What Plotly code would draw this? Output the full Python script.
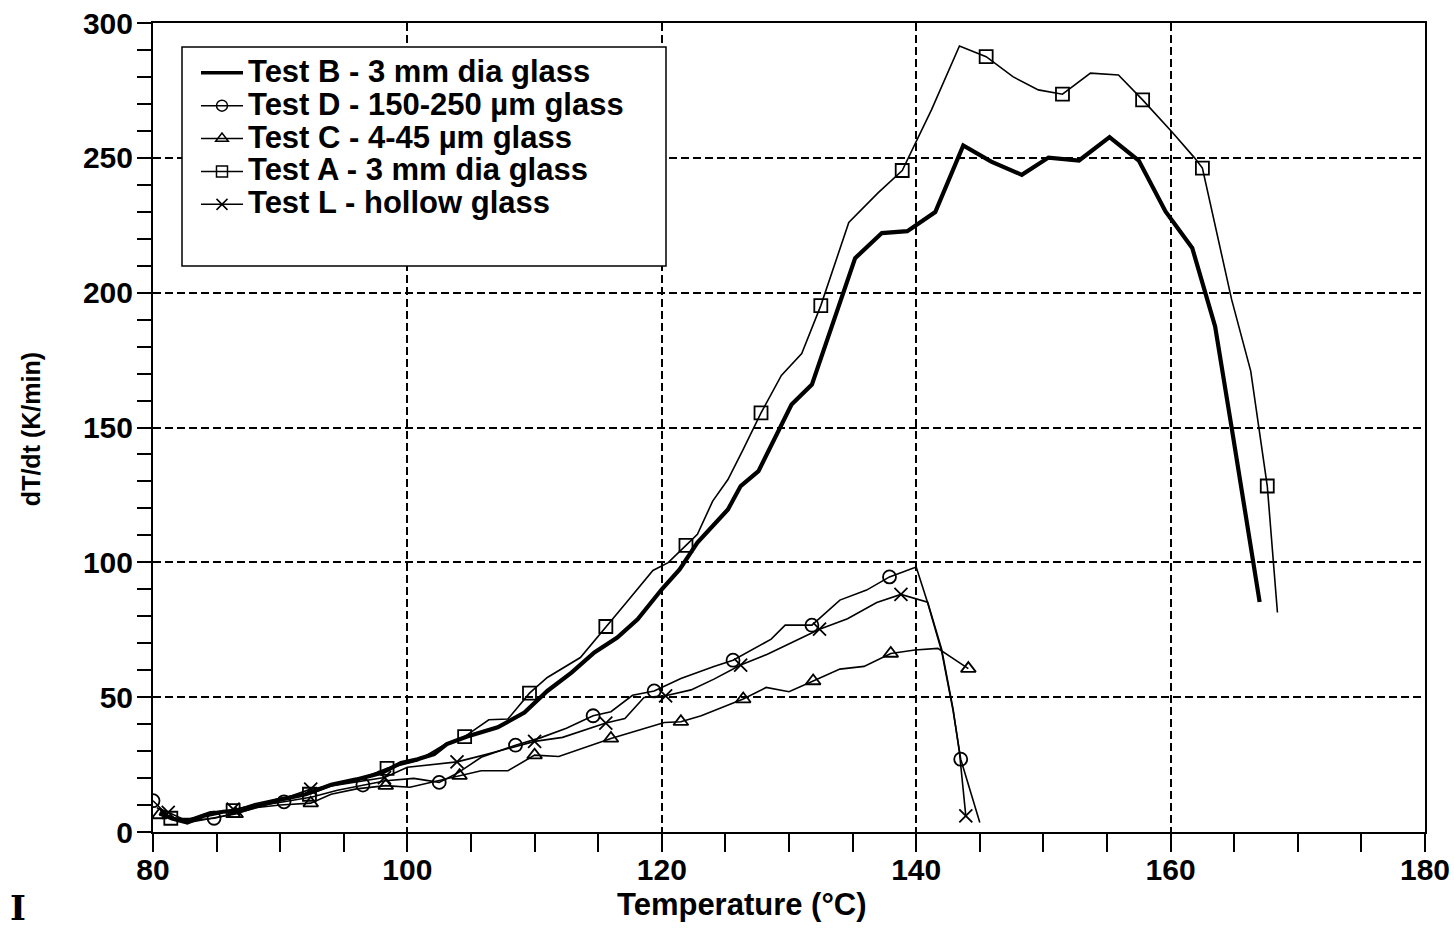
import plotly.graph_objects as go

# ---------------- data ----------------
B_x = [80.5, 81.5, 82.7, 84, 85.5, 87, 88.5, 90, 92, 94, 96, 98, 99.5, 100.8, 102.1, 103.1, 104.7,
       107.1, 109.2, 111, 112.9, 114.7, 116.5, 118.1, 120, 121.4, 122.8, 125.2, 126.2, 127.6, 130.2,
       131.8, 135.2, 137.3, 139.3, 141.5, 143.7, 145.9, 148.3, 150.4, 152.8, 155.2, 157.5, 159.6,
       161.7, 163.5, 164.8, 166.5, 167.0]
B_y = [7, 5, 3.5, 6, 7.5, 8, 10, 12, 14, 17.5, 19.5, 22, 25.6, 27, 28.9, 32.6, 35.4,
       38.8, 44.3, 52.3, 59.1, 66.6, 72.1, 78.9, 90, 97.4, 107.3, 119.6, 128.3, 133.8, 158.5,
       165.9, 212.8, 222.1, 222.8, 229.9, 254.6, 248.6, 243.7, 250.1, 249, 257.7, 249, 230.1,
       216.6, 187.5, 149.9, 99.9, 85.3]

A_x = [80.6, 81.4, 83, 84.5, 86.3, 88, 90, 92.3, 94.5, 96.5, 98.4, 100.8, 103, 104.5, 106.4, 107.9,
       109.6, 111, 113.6, 115.6, 117.2, 119.3, 120.5, 121.9, 122.8, 124, 125.2, 126.4, 127.8, 129.4,
       131, 132.5, 134, 134.7, 137, 138.9, 141.2, 143.4, 145.5, 147.6, 149.6, 151.5, 153.7, 155.9, 157.8,
       160.2, 161.9, 162.5, 164.8, 166.3, 167.6, 168.4]
A_y = [8, 5.1, 5, 7.5, 7.9, 10.5, 12.5, 14, 18, 20, 23.6, 26.4, 32.6, 35.4, 41.6, 41.9,
       51.5, 57.3, 64.7, 76.2, 85, 97, 99.9, 106.3, 110.4, 122.7, 130.7, 141.9, 155.4, 169.3,
       177.4, 195.2, 216, 226, 237, 245.3, 267.8, 291.5, 287.5, 280.1, 275.2, 273.6, 281.4, 280.7, 271.5,
       259.1, 249.9, 246.2, 197.4, 170.9, 128.3, 81.4]
A_mx = [81.4, 86.3, 92.3, 98.4, 104.5, 109.6, 115.6, 121.9, 127.8, 132.5, 138.9, 145.5, 151.5, 157.8, 162.5, 167.6]
A_my = [5.1, 7.9, 14, 23.6, 35.4, 51.5, 76.2, 106.3, 155.4, 195.2, 245.3, 287.5, 273.6, 271.5, 246.2, 128.3]

D_x = [80.0, 81.2, 82.5, 84.8, 86.5, 88, 90.3, 92.5, 94.5, 96.5, 98.3, 100.5, 102.5, 104, 105.8,
       108.5, 110.5, 112.5, 114.6, 116, 117.7, 119.4, 121.5, 124.1, 125.6, 128.6, 129.7, 131.8,
       134, 136.1, 137.9, 140, 140.9, 142, 142.9, 143.5, 145]
D_y = [11.6, 6, 4, 5.1, 7, 9.5, 11.2, 13, 15.5, 17.4, 19, 19.9, 18.4, 22, 27.7,
       32.2, 35, 38.5, 43.1, 44.6, 50.7, 52.3, 56.9, 61.4, 63.7, 71.5, 76.7, 76.7,
       86, 89.7, 94.6, 98.3, 85, 67, 45, 27, 3.5]
D_mx = [80.0, 84.8, 90.3, 96.5, 102.5, 108.5, 114.6, 119.4, 125.6, 131.8, 137.9, 143.5]
D_my = [11.6, 5.1, 11.2, 17.4, 18.4, 32.2, 43.1, 52.3, 63.7, 76.7, 94.6, 27]

C_x = [80.5, 81.5, 82.7, 84.5, 86.5, 88, 90, 92.4, 94, 96, 98.3, 100.2, 102, 104.1, 105.8, 107.9,
       110, 111.9, 116, 120.2, 121.5, 123.1, 126.4, 128.2, 130, 131.9, 134, 135.9, 138, 139.9,
       141.7, 144.1]
C_y = [6.3, 5, 3.5, 5, 6.7, 9, 10, 10.7, 14, 16, 17.2, 16.6, 18.5, 20.9, 22.7, 22.7,
       28.5, 28, 34.7, 40.6, 40.9, 43.1, 49.3, 53.6, 52, 56, 60.4, 61.4, 66.2, 67.5,
       68.1, 60.6]
C_mx = [80.5, 86.5, 92.4, 98.3, 104.1, 110, 116, 121.5, 126.4, 131.9, 138, 144.1]
C_my = [6.3, 6.7, 10.7, 17.2, 20.9, 28.5, 34.7, 40.9, 49.3, 56, 66.2, 60.6]

L_x = [80.3, 81.2, 82.5, 84, 86.3, 88, 90, 92.4, 94.5, 96.5, 98.2, 100, 102, 103.9, 106, 108,
       110, 112.2, 115.6, 117.1, 118.6, 120.3, 122.3, 124.1, 126.2, 128.3, 130.3, 132.4, 134.6,
       136.9, 138.8, 140.9, 142, 142.9, 143.4, 143.9]
L_y = [9, 7.3, 4.5, 6, 8.5, 10, 12, 15.9, 17.5, 19, 20.2, 24, 25, 26, 28.5, 31,
       33.6, 35.1, 40.4, 42.1, 49.9, 50.5, 52.7, 56.7, 61.9, 65.9, 70.3, 75.2, 79.1,
       85.1, 88.1, 85.2, 67.8, 45.6, 29.5, 6]
L_mx = [81.2, 86.3, 92.4, 98.2, 103.9, 110, 115.6, 120.3, 126.2, 132.4, 138.8, 143.9]
L_my = [7.3, 8.5, 15.9, 20.2, 26, 33.6, 40.4, 50.5, 61.9, 75.2, 88.1, 6]

names = {
    "B": "Test B - 3 mm dia glass",
    "D": "Test D - 150-250 µm glass",
    "C": "Test C - 4-45 µm glass",
    "A": "Test A - 3 mm dia glass",
    "L": "Test L - hollow glass",
}

x_ticks = [80, 100, 120, 140, 160, 180]
y_ticks = [0, 50, 100, 150, 200, 250, 300]

# ---------------- figure ----------------
FONT = "Liberation Sans, Arial, sans-serif"
MS = 13
fig = go.Figure()

series = [
    ("D", D_x, D_y, D_mx, D_my, "circle-open"),
    ("C", C_x, C_y, C_mx, C_my, "triangle-up-open"),
    ("A", A_x, A_y, A_mx, A_my, "square-open"),
    ("L", L_x, L_y, L_mx, L_my, "x-thin-open"),
]

for key, xs, ys, mx, my, sym in series:
    fig.add_trace(go.Scatter(x=xs, y=ys, mode="lines", showlegend=False,
                             line=dict(color="black", width=1.6), hoverinfo="skip"))
    fig.add_trace(go.Scatter(x=mx, y=my, mode="markers", showlegend=False,
                             marker=dict(symbol=sym, size=MS, color="black",
                                         line=dict(color="black", width=1.8))))

fig.add_trace(go.Scatter(x=B_x, y=B_y, mode="lines", showlegend=False,
                         line=dict(color="black", width=4.2)))

# legend entries
def lab(t):
    return '<span style="font-size:31px">' + t + '</span>'

fig.add_trace(go.Scatter(x=[None], y=[None], mode="lines", name=lab(names["B"]),
                         line=dict(color="black", width=3.5)))
leg_sym = {"D": "circle-open", "C": "triangle-up-open", "A": "square-open", "L": "x-thin-open"}
for key in ["D", "C", "A", "L"]:
    fig.add_trace(go.Scatter(x=[None], y=[None], mode="lines+markers", name=lab(names[key]),
                             line=dict(color="black", width=1.5),
                             marker=dict(symbol=leg_sym[key], size=11, color="black",
                                         line=dict(color="black", width=1.5))))

axis_common = dict(
    showline=True, linecolor="black", linewidth=2, mirror=True,
    ticks="outside", tickcolor="black", tickwidth=1.5,
    showgrid=True, gridcolor="black", gridwidth=1.5, griddash="8px,4px",
    zeroline=False, automargin=False,
    tickfont=dict(family=FONT, size=30, color="black", weight="bold"),
)

fig.update_xaxes(range=[80, 180], tickvals=x_ticks, ticklen=18, ticklabelstandoff=-8,
                 minor=dict(dtick=5, tick0=80, ticklen=18, tickwidth=1.5, tickcolor="black",
                            ticks="outside", showgrid=False),
                 **axis_common)
fig.update_yaxes(range=[0, 300], tickvals=y_ticks, ticklen=14, ticklabelstandoff=-2,
                 minor=dict(dtick=10, tick0=0, ticklen=14, tickwidth=1.5, tickcolor="black",
                            ticks="outside", showgrid=False),
                 **axis_common)

# axis titles
fig.add_annotation(text="Temperature (°C)", xref="paper", yref="paper", x=0.463, y=-0.089,
                   xanchor="center", yanchor="middle", showarrow=False,
                   font=dict(family=FONT, size=31, color="black", weight="bold"))
fig.add_annotation(text="dT/dt (K/min)", xref="paper", yref="paper", x=-0.0959, y=0.498,
                   xanchor="center", yanchor="middle", showarrow=False, textangle=-90,
                   font=dict(family=FONT, size=25, color="black", weight="bold"))

# legend frame
fig.add_shape(type="rect", xref="paper", yref="paper",
              x0=0.0228, x1=0.4033, y0=0.6996, y1=0.9703,
              line=dict(color="black", width=1.5), fillcolor="white", layer="above")

fig.update_layout(
    width=1454, height=933, autosize=False,
    margin=dict(l=153, r=29, t=23, b=101),
    plot_bgcolor="white", paper_bgcolor="white",
    legend=dict(x=0.0338, y=0.965, xanchor="left", yanchor="top",
                bgcolor="rgba(0,0,0,0)", borderwidth=0, itemwidth=42,
                font=dict(family=FONT, size=23, color="black", weight="bold"),
                tracegroupgap=0),
    showlegend=True,
)

# small serif glyph at the bottom-left corner of the reference
fig.add_annotation(text="<b>I</b>", xref="paper", yref="paper", x=-0.114, y=-0.1215,
                   xanchor="left", yanchor="bottom", showarrow=False,
                   font=dict(family="DejaVu Serif", size=34, color="black"))

fig.write_html("out.html")
